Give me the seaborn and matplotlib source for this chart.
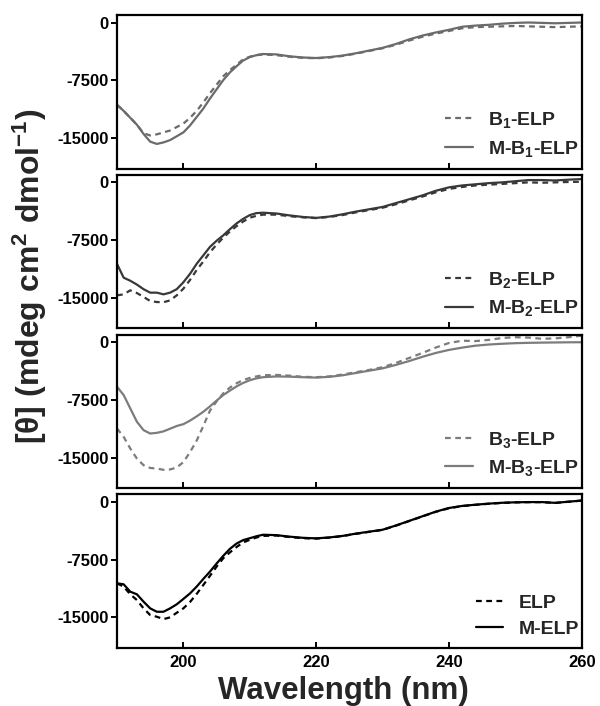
import numpy as np
import pandas as pd
import matplotlib
matplotlib.use("Agg")
import matplotlib.pyplot as plt
import seaborn as sns

# ---------------- data ----------------
wavelength = [190, 191, 192, 193, 194, 195, 196, 197, 198, 199, 200, 201, 202, 203, 204,
              205, 206, 207, 208, 209, 210, 211, 212, 214, 216, 218, 220, 222, 224, 226,
              228, 230, 232, 234, 236, 238, 240, 242, 244, 246, 248, 250, 252, 254, 256,
              258, 260]

b1_elp = [-10700, -11500, -12400, -13300, -14400, -14700, -14550, -14300, -14050, -13600,
          -13150, -12400, -11500, -10400, -9200, -8100, -7000, -6200, -5500, -4800, -4450,
          -4250, -4150, -4250, -4450, -4600, -4650, -4550, -4350, -4050, -3700, -3350,
          -2900, -2350, -1850, -1450, -1100, -750, -600, -550, -500, -450, -500, -550,
          -600, -550, -500]
m_b1_elp = [-10700, -11500, -12400, -13300, -14500, -15500, -15800, -15600, -15300, -14800,
            -14300, -13400, -12300, -11200, -9900, -8700, -7500, -6500, -5700, -4950, -4500,
            -4250, -4100, -4150, -4400, -4550, -4620, -4500, -4300, -4000, -3650, -3300,
            -2800, -2200, -1700, -1300, -950, -550, -400, -300, -150, -50, 0, -50, -100,
            -50, 0]

b2_elp = [-14700, -14570, -14050, -14400, -14900, -15440, -15570, -15600, -15350, -14700,
          -13830, -12700, -11400, -10300, -9100, -8100, -7200, -6400, -5700, -5100, -4600,
          -4350, -4200, -4200, -4400, -4550, -4650, -4500, -4250, -3900, -3600, -3300,
          -2850, -2350, -1850, -1300, -850, -600, -400, -300, -200, -100, 0, -50, 0, 50, 80]
m_b2_elp = [-10600, -12400, -12800, -13300, -13900, -14350, -14350, -14570, -14350, -13900,
            -13000, -11900, -10600, -9500, -8400, -7600, -6900, -6100, -5350, -4750, -4260,
            -4000, -3950, -4050, -4300, -4500, -4620, -4450, -4150, -3800, -3500, -3200,
            -2700, -2200, -1700, -1100, -650, -400, -250, -100, 0, 150, 300, 300, 250, 350,
            430]

b3_elp = [-11220, -12310, -13830, -15140, -16000, -16360, -16440, -16600, -16550, -16300,
          -15600, -14300, -12800, -10900, -8900, -7700, -6660, -5900, -5350, -4920, -4650,
          -4450, -4300, -4250, -4350, -4500, -4550, -4450, -4200, -3900, -3600, -3250,
          -2700, -2050, -1400, -700, -100, 200, 150, 300, 550, 650, 600, 450, 500, 650, 850]
m_b3_elp = [-5790, -6870, -8610, -10350, -11440, -11880, -11790, -11600, -11250, -10900,
            -10660, -10200, -9650, -9050, -8350, -7600, -6870, -6300, -5750, -5300, -4950,
            -4700, -4550, -4450, -4480, -4550, -4600, -4500, -4300, -4000, -3700, -3400,
            -2950, -2450, -1900, -1400, -1000, -700, -450, -300, -200, -120, -80, -50, -30,
            -10, 0]

elp = [-10570, -11000, -12000, -12750, -13830, -14700, -14920, -15230, -15000, -14400,
       -13830, -13000, -11950, -10790, -9600, -8400, -7310, -6550, -5850, -5260, -4900,
       -4610, -4400, -4350, -4550, -4700, -4750, -4620, -4420, -4130, -3870, -3620, -3070,
       -2470, -1870, -1270, -800, -520, -360, -220, -110, -40, -10, -10, -110, 40, 190]
m_elp = [-10570, -10700, -11660, -12000, -12960, -13830, -14270, -14270, -13830, -13300,
         -12600, -11880, -11000, -10000, -9050, -8000, -7000, -6090, -5400, -4950, -4700,
         -4450, -4250, -4300, -4500, -4650, -4720, -4600, -4400, -4100, -3850, -3600, -3050,
         -2450, -1850, -1250, -770, -500, -340, -200, -90, -30, 0, 0, -100, 50, 200]

panels = [
    (b1_elp, m_b1_elp, r"B$_1$-ELP", r"M-B$_1$-ELP", "#6b6b6b"),
    (b2_elp, m_b2_elp, r"B$_2$-ELP", r"M-B$_2$-ELP", "#383838"),
    (b3_elp, m_b3_elp, r"B$_3$-ELP", r"M-B$_3$-ELP", "#7c7c7c"),
    (elp, m_elp, "ELP", "M-ELP", "#000000"),
]
x_ticks = [200, 220, 240, 260]
y_ticks = [0, -7500, -15000]

# ---------------- style ----------------
sns.set_style("white")
plt.rcParams["font.family"] = ["Liberation Sans", "DejaVu Sans"]
plt.rcParams["font.weight"] = "bold"
plt.rcParams["mathtext.fontset"] = "custom"
plt.rcParams["mathtext.rm"] = "Liberation Sans:bold"
plt.rcParams["mathtext.bf"] = "Liberation Sans:bold"
plt.rcParams["mathtext.it"] = "Liberation Sans:bold"
plt.rcParams["mathtext.default"] = "bf"
plt.rcParams["axes.unicode_minus"] = False

fig, axes = plt.subplots(4, 1, figsize=(6.0, 7.06), dpi=100, sharex=True)
fig.subplots_adjust(left=0.195, right=0.9695, top=0.979, bottom=0.082, hspace=0.04)

for i, (ax, (dash_vals, solid_vals, dash_lab, solid_lab, col)) in enumerate(zip(axes, panels)):
    df = pd.DataFrame({"wl": wavelength, "dash": dash_vals, "solid": solid_vals})
    sns.lineplot(data=df, x="wl", y="dash", ax=ax, color=col, lw=1.6,
                 linestyle=(0, (2.6, 2.0)), label=dash_lab)
    sns.lineplot(data=df, x="wl", y="solid", ax=ax, color=col, lw=1.6,
                 label=solid_lab)
    ax.set_xlim(190, 260)
    ax.set_ylim(-19000, 1000)
    ax.set_xticks(x_ticks)
    ax.set_yticks(y_ticks)
    ax.set_yticklabels([str(v) for v in y_ticks])
    ax.set_xlabel("")
    ax.set_ylabel("")
    for s in ax.spines.values():
        s.set_visible(True)
        s.set_linewidth(1.6)
        s.set_color("black")
    ax.tick_params(axis="y", direction="out", length=4, width=1.4, labelsize=12,
                   pad=2, left=True, colors="black")
    ax.tick_params(axis="x", direction="in", length=4, width=1.4, labelsize=12,
                   pad=5, bottom=True, colors="black")
    for lbl in ax.get_yticklabels() + ax.get_xticklabels():
        lbl.set_fontweight("bold")
    leg = ax.legend(loc="lower right", bbox_to_anchor=(0.994, 0.065), frameon=False,
                    fontsize=14, handlelength=1.4, handletextpad=0.8,
                    labelspacing=0.45, borderaxespad=0.0, borderpad=0.0)
    for t in leg.get_texts():
        t.set_fontweight("bold")

fig.text(0.572, 0.021, "Wavelength (nm)", ha="center", va="center",
         fontsize=22.5, fontweight="bold")
fig.text(0.05, 0.608, r"[θ] (mdeg cm$^2$ dmol$^{-1}$)", rotation=90, ha="center",
         va="center", fontsize=23, fontweight="bold")

fig.savefig("out.png", dpi=100)
